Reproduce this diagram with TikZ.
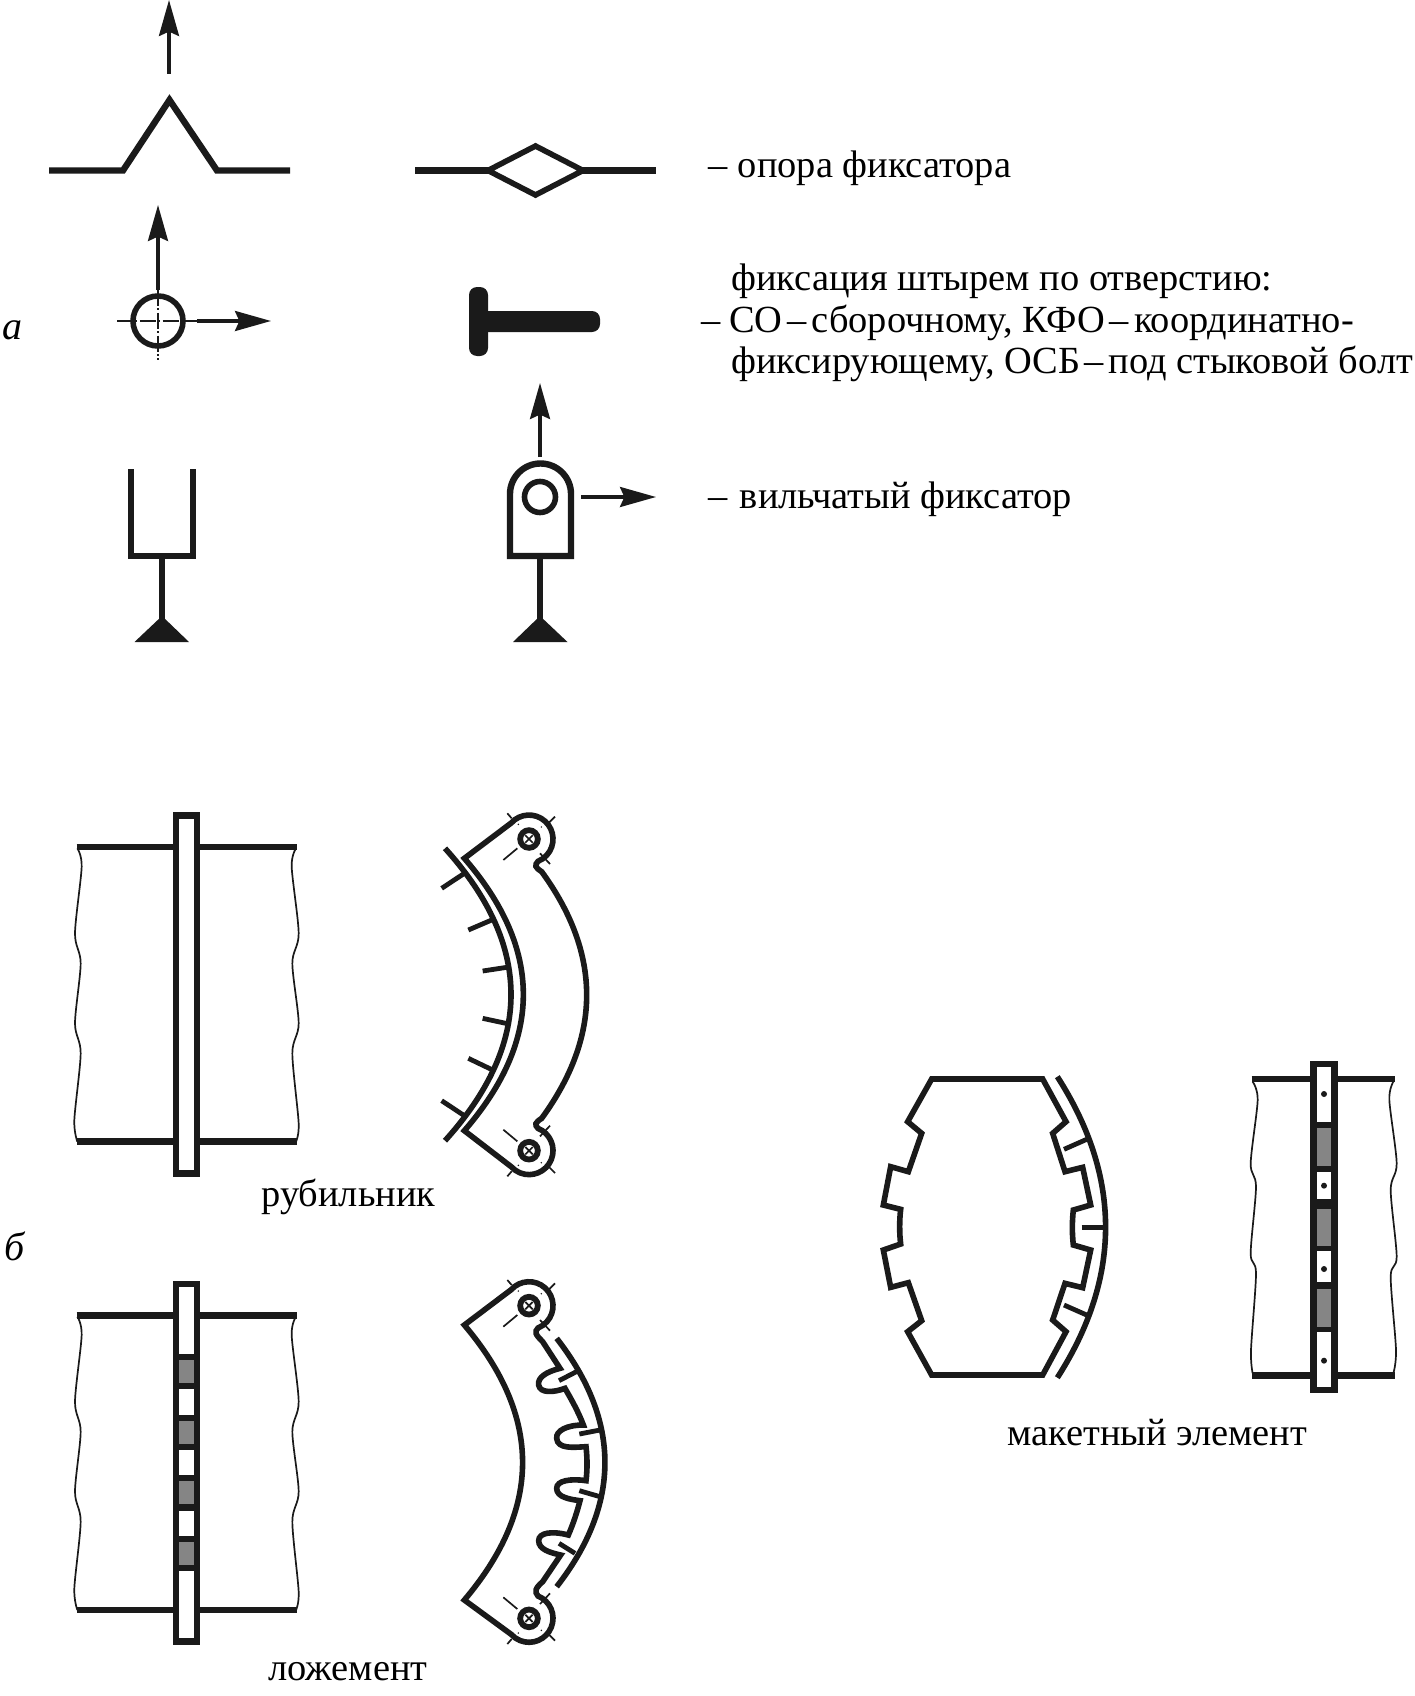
\documentclass[tikz,border=0pt]{standalone}
\usepackage{fontspec}
\setmainfont{Liberation Serif}
\usetikzlibrary{arrows.meta}
\definecolor{ink}{HTML}{1A1A1A}
\definecolor{cellgray}{HTML}{858585}
\tikzset{
  zs/.style={shift={(#1)},x=0.16667pt,y=-0.16667pt},
  heavy/.style={draw=ink,line width=3.2pt,miter limit=10},
  medium/.style={draw=ink,line width=2.8pt,miter limit=10},
  tickline/.style={draw=ink,line width=2.4pt},
  hairline/.style={draw=ink,line width=0.85pt},
  centerline/.style={draw=ink,line width=0.6pt,dash pattern=on 8pt off 1.2pt on 1pt off 1.2pt},
  dimarrow/.style={draw=ink,line width=1.6pt,-{Stealth[length=18pt,width=10pt,inset=2.2pt]}},
  label/.style={inner sep=0pt,anchor=base west,text=black,font=\fontsize{19.2}{21}\selectfont},
  apex/.style={fill=ink,draw=none},
}
\newcommand\breaklines{
  \draw[hairline] plot[smooth] coordinates {(52,145) (65,200) (45,400) (62,490) (45,670) (62,760) (43,960) (52,1025)};
  \draw[hairline] plot[smooth] coordinates {(708,145) (695,200) (716,400) (697,490) (716,670) (697,760) (716,970) (708,1025)};
}
\newcommand\boltmark[3]{% cx, cy, yflip
  \begin{scope}[shift={(#1,#2)},yscale=#3]
    \draw[hairline] (-77,63) -- (-35,28);
    \draw[hairline] (-65,-77) -- (-52,-62);
    \draw[hairline] (78,-67) -- (58,-47);
    \draw[hairline] (63,75) -- (33,43);
    \fill[ink] (-32,-44) circle (2.5) (37,-36) circle (2.5);
    \draw[draw=ink,line width=2.9pt,fill=white] (0,0) circle (26.5);
    \draw[hairline] (-11,-11) -- (11,11) (-11,11) -- (11,-11);
  \end{scope}
}
\begin{document}
\begin{tikzpicture}[x=0.5pt,y=-0.5pt]
\useasboundingbox (0,0) rectangle (1414,1696);
\fill[white] (0,0) rectangle (1414,1696);

% --- row 1
\draw[dimarrow] (169,74) -- (169,0);
\draw[heavy,line join=miter] (49,170.5) -- (123,170.5) -- (169.5,100) -- (217,170.5) -- (290,170.5);
\draw[heavy] (415,170.5) -- (488,170.5);
\draw[heavy] (583,170.5) -- (656,170.5);
\draw[medium] (488,170.5) -- (535.5,146) -- (583,170.5) -- (535.5,195) -- cycle;

% --- row 2
\draw[dimarrow] (158,290) -- (158,205);
\draw[dimarrow] (197,321) -- (271,321);
\draw[medium] (158,321) circle (25);
\draw[centerline] (117,321) -- (197,321);
\draw[centerline] (158,290) -- (158,360);
\fill[ink,rounded corners=4pt] (469,287) rectangle (488,356);
\fill[ink,rounded corners=4pt] (480,311) rectangle (600,332);

% --- row 3: fork
\draw[heavy,line join=miter] (131,469) -- (131,556) -- (193,556) -- (193,469);
\draw[heavy] (162,556) -- (162,620);
\fill[apex] (162,616) -- (189,642) -- (134.5,642) -- cycle;
% eye
\draw[dimarrow] (540,457) -- (540,383);
\draw[dimarrow] (581,497) -- (656,497);
\draw[heavy,line join=miter] (510,556) -- (510,494) arc[start angle=180,end angle=360,radius=30.5] -- (571,556) -- cycle;
\draw[medium] (540,497) circle (15.5);
\draw[heavy] (540,556) -- (540,620);
\fill[apex] (540,616) -- (567.5,642) -- (513,642) -- cycle;

% --- text of part a
\node[label] (t1) at (708,178) {–\hspace{0.27em}опора фиксатора};
\node[label] (t2a) at (731,290) {фиксация штырем по отверстию:};
\node[label] (t2b) at (701,332) {–\hspace{0.22em}СО\hspace{0.13em}–\hspace{0.13em}сборочному, КФО\hspace{0.13em}–\hspace{0.13em}координатно-};
\node[label] (t2c) at (731,373) {фиксирующему, ОСБ\hspace{0.12em}–\hspace{0.12em}под стыковой болт};
\node[label] (t3) at (708,508) {–\hspace{0.32em}вильчатый фиксатор};
\node[label,font=\fontsize{20}{22}\selectfont\itshape] (la) at (2,339) {а};
\node[label,font=\fontsize{20}{22}\selectfont\itshape] (lb) at (4,1260) {б};
\node[label] (t4) at (261,1206) {рубильник};
\node[label] (t5) at (268,1680) {ложемент};
\node[label] (t6) at (1007,1445) {макетный элемент};

% --- body 1
\begin{scope}[zs={60,800}]
  \breaklines
  \draw[heavy] (50,141) -- (340,141) (420,141) -- (710,141);
  \draw[heavy] (50,1024) -- (340,1024) (420,1024) -- (710,1024);
  \draw[heavy,fill=white] (348,47) rectangle (411,1120);
\end{scope}

% --- body 2
\begin{scope}[zs={60,1270}]
  \draw[hairline] plot[smooth] coordinates {(52,140) (65,195) (45,395) (62,485) (45,665) (62,755) (43,955) (52,1020)};
  \draw[hairline] plot[smooth] coordinates {(708,140) (695,195) (716,395) (697,485) (716,665) (697,755) (716,965) (708,1020)};
  \draw[heavy] (50,136) -- (340,136) (420,136) -- (710,136);
  \draw[heavy] (50,1020) -- (340,1020) (420,1020) -- (710,1020);
  \fill[ink] (338,32) rectangle (420,1124);
  \fill[white] (358,50) rectangle (402,252);
  \fill[cellgray] (358,270) rectangle (402,340);
  \fill[white] (358,358) rectangle (402,435);
  \fill[cellgray] (358,452) rectangle (402,522);
  \fill[white] (358,540) rectangle (402,615);
  \fill[cellgray] (358,633) rectangle (402,703);
  \fill[white] (358,722) rectangle (402,798);
  \fill[cellgray] (358,815) rectangle (402,885);
  \fill[white] (358,903) rectangle (402,1105);
\end{scope}

% --- clamp (rubilnik)
\begin{scope}[zs={400,790}]
  \draw[medium,line join=miter] (193,205) -- (333.5,99) arc[start angle=222,end angle=428,radius=72]
    .. controls (403,226) and (405,232) .. (425,245)
    .. controls (605,492) and (605,738) .. (425,985)
    .. controls (405,998) and (403,1004) .. (414,1015)
    arc[start angle=-68,end angle=138,radius=72]
    -- (193,1022)
    .. controls (429,750) and (429,477) .. cycle;
  \draw[medium] (135,175) .. controls (399,467) and (399,760) .. (135,1052);
  \draw[tickline] (125,295) -- (190,252);
  \draw[tickline] (205,420) -- (275,390);
  \draw[tickline] (248,543) -- (320,532);
  \draw[tickline] (248,685) -- (318,700);
  \draw[tickline] (205,805) -- (278,840);
  \draw[tickline] (125,932) -- (190,975);
  \boltmark{387}{147}{1}
  \boltmark{387}{1082}{-1}
\end{scope}

% --- clamp with teeth (lozhement)
\begin{scope}[zs={430,1260}]
  \draw[medium,line join=miter] (103,195) -- (243.5,89) arc[start angle=222,end angle=428,radius=72]
    .. controls (313,216) and (315,222) .. (338,245)
    -- (390,325)
    .. controls (350,335) and (322,352) .. (326,375)
    .. controls (330,400) and (370,398) .. (405,385)
    .. controls (425,420) and (445,455) .. (460,495)
    .. controls (410,495) and (378,512) .. (380,535)
    .. controls (383,568) and (430,562) .. (468,560)
    .. controls (472,595) and (472,630) .. (468,662)
    .. controls (420,655) and (380,662) .. (380,685)
    .. controls (380,712) and (420,718) .. (450,722)
    .. controls (440,760) and (430,790) .. (415,825)
    .. controls (365,812) and (326,818) .. (326,842)
    .. controls (326,868) and (360,878) .. (392,885)
    -- (338,965)
    .. controls (315,985) and (313,995) .. (324,1008)
    arc[start angle=-68,end angle=138,radius=72]
    -- (103,1020)
    .. controls (336,745) and (336,470) .. cycle;
  \draw[medium] (380,235) .. controls (573,483) and (573,732) .. (380,980);
  \draw[white,line width=4.4pt] (387,362) -- (410,350);
  \draw[white,line width=4.4pt] (448,522) -- (470,518);
  \draw[white,line width=4.4pt] (448,692) -- (470,698);
  \draw[white,line width=4.4pt] (387,850) -- (410,865);
  \draw[tickline] (387,362) -- (445,332);
  \draw[tickline] (448,522) -- (510,510);
  \draw[tickline] (448,692) -- (510,710);
  \draw[tickline] (387,850) -- (435,880);
  \boltmark{297}{137}{1}
  \boltmark{297}{1075}{-1}
\end{scope}

% --- mock-up element
\begin{scope}[zs={860,1050}]
  \draw[medium,line join=miter] (215,87) -- (548,87) -- (618,215) -- (578,250) -- (615,365) -- (668,352) -- (692,465)
    -- (640,480) .. controls (636,515) and (636,550) .. (640,585)
    -- (692,600) -- (668,713) -- (615,700) -- (578,810) -- (618,845) -- (548,975) -- (215,975) -- (143,845) -- (185,812)
    -- (145,698) -- (92,712) -- (70,600) -- (122,582) .. controls (118,550) and (118,510) .. (122,478)
    -- (70,465) -- (92,350) -- (145,365) -- (185,250) -- (143,215) -- cycle;
  \draw[medium] (592,80) .. controls (785,381) and (785,682) .. (592,983);
  \draw[tickline] (612,298) -- (680,268);
  \draw[tickline] (665,532) -- (737,532);
  \draw[tickline] (612,765) -- (680,795);
\end{scope}

% --- body 3
\begin{scope}[zs={1230,1050}]
  \draw[hairline] plot[smooth] coordinates {(68,95) (83,150) (62,340) (78,410) (62,610) (78,670) (63,900) (68,970)};
  \draw[hairline] plot[smooth] coordinates {(490,95) (478,150) (500,340) (482,420) (500,620) (482,680) (498,900) (490,970)};
  \draw[heavy] (65,87) -- (242,87) (322,87) -- (495,87);
  \draw[heavy] (65,976) -- (242,976) (322,976) -- (495,976);
  \fill[ink] (241,33) rectangle (323,1030);
  \fill[white] (260,52) rectangle (304,215);
  \fill[cellgray] (260,233) rectangle (304,347);
  \fill[white] (260,365) rectangle (304,448);
  \fill[cellgray] (260,477) rectangle (304,587);
  \fill[white] (260,604) rectangle (304,697);
  \fill[cellgray] (260,716) rectangle (304,830);
  \fill[white] (260,847) rectangle (304,1012);
  \fill[ink] (282,132) circle (9) (282,407) circle (9) (282,657) circle (9) (282,932) circle (9);
\end{scope}
\end{tikzpicture}
\end{document}
